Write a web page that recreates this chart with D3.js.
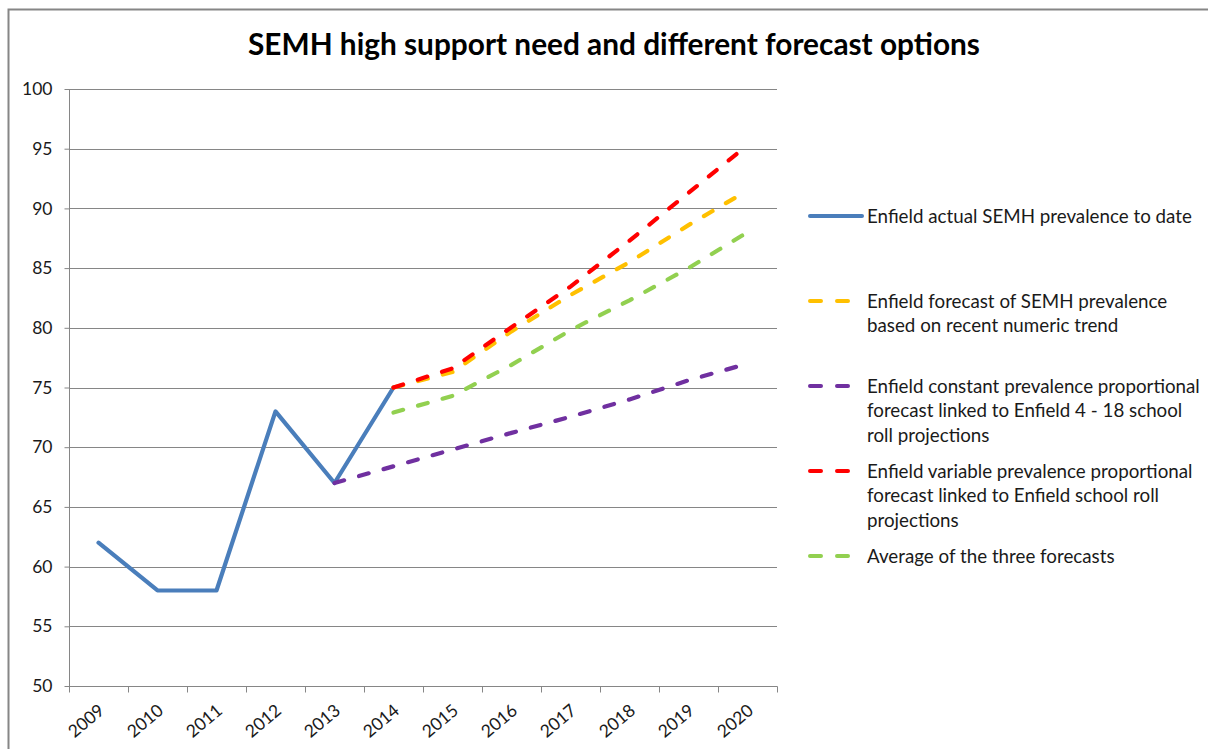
<!DOCTYPE html>
<html>
<head>
<meta charset="utf-8">
<script src="https://cdn.jsdelivr.net/npm/d3@7"></script>
<style>
  html, body { margin: 0; padding: 0; background: #fff; }
  svg { display: block; }
  text { font-family: Lato, "Open Sans", "Liberation Sans", sans-serif; }
</style>
</head>
<body>
<svg id="chart" width="1208" height="749"></svg>
<script>
// ---------- data ----------
const years = ["2009","2010","2011","2012","2013","2014","2015","2016","2017","2018","2019","2020"];
const actualYears = ["2009","2010","2011","2012","2013","2014"];
const actualValues = [62, 58, 58, 73, 67, 75];
const forecastYears = ["2014","2015","2016","2017","2018","2019","2020"];
const trendValues = [75, 76.3, 79.7, 82.75, 85.5, 88.6, 91.5];
const constantYears = ["2013","2014","2015","2016","2017","2018","2019","2020"];
const constantValues = [67, 68.4, 69.8, 71.2, 72.55, 74.0, 75.6, 77.0];
const variableValues = [75, 76.6, 80.05, 83.45, 87.3, 91.3, 95.3];
const averageValues = [72.9, 74.3, 76.9, 79.8, 82.3, 85.0, 88.0];
const yTicks = [50, 55, 60, 65, 70, 75, 80, 85, 90, 95, 100];
const titleText = "SEMH high support need and different forecast options";
const legendItems = [
  { lines: ["Enfield actual SEMH prevalence to date"], color: "#4A7EBB", dashed: false },
  { lines: ["Enfield forecast of SEMH prevalence", "based on recent numeric trend"], color: "#FFC000", dashed: true },
  { lines: ["Enfield constant prevalence proportional", "forecast linked to Enfield 4 - 18 school", "roll projections"], color: "#7030A0", dashed: true },
  { lines: ["Enfield variable prevalence proportional", "forecast linked to Enfield school roll", "projections"], color: "#FF0000", dashed: true },
  { lines: ["Average of the three forecasts"], color: "#92D050", dashed: true }
];

const series = [
  { xs: actualYears, ys: actualValues, color: "#4A7EBB", dashed: false },
  { xs: forecastYears, ys: trendValues, color: "#FFC000", dashed: true },
  { xs: constantYears, ys: constantValues, color: "#7030A0", dashed: true },
  { xs: forecastYears, ys: variableValues, color: "#FF0000", dashed: true },
  { xs: forecastYears, ys: averageValues, color: "#92D050", dashed: true }
];

// ---------- layout ----------
const svg = d3.select("#chart");
const plot = { left: 69, right: 777, top: 89, bottom: 686 };
const gridColor = "#868686";
const textColor = "#1a1a1a";

// outer border
svg.append("rect")
  .attr("x", 8.5).attr("y", 9.5).attr("width", 1220).attr("height", 760)
  .attr("fill", "none").attr("stroke", "#868686").attr("stroke-width", 2);

const x = d3.scaleBand().domain(years).range([plot.left, plot.right]).padding(0);
const cx = d => x(d) + x.bandwidth() / 2;
const y = d3.scaleLinear().domain([50, 100]).range([plot.bottom, plot.top]);

// gridlines
svg.append("g").selectAll("line").data(yTicks.filter(t => t !== 50)).join("line")
  .attr("x1", plot.left).attr("x2", plot.right)
  .attr("y1", d => Math.round(y(d)) + 0.5).attr("y2", d => Math.round(y(d)) + 0.5)
  .attr("stroke", gridColor).attr("stroke-width", 1);

// y axis
const yAxis = svg.append("g")
  .attr("transform", `translate(${plot.left + 0.5},0)`)
  .call(d3.axisLeft(y).tickValues(yTicks).tickSize(5).tickPadding(12).tickFormat(d3.format("d")));
yAxis.select(".domain").attr("stroke", gridColor).attr("d", `M0,${plot.top}V${plot.bottom + 5}`);
yAxis.selectAll(".tick line").attr("stroke", gridColor);
yAxis.selectAll(".tick text").attr("fill", textColor)
  .style("font-size", "17.5px").style("font-family", "Lato, 'Open Sans', sans-serif");

// x axis
const xAxisG = svg.append("g").attr("transform", `translate(0,${plot.bottom + 0.5})`);
xAxisG.append("line").attr("x1", plot.left).attr("x2", plot.right + 0.5)
  .attr("y1", 0).attr("y2", 0).attr("stroke", gridColor);
const boundaries = years.map(d => x(d)).concat([plot.right]);
xAxisG.selectAll("line.tk").data(boundaries).join("line").attr("class", "tk")
  .attr("x1", d => Math.round(d) + 0.5).attr("x2", d => Math.round(d) + 0.5)
  .attr("y1", 0).attr("y2", 6).attr("stroke", gridColor);
xAxisG.selectAll("text").data(years).join("text")
  .attr("text-anchor", "end")
  .attr("transform", d => `translate(${cx(d) + 7},${26}) rotate(-40)`)
  .attr("fill", textColor)
  .style("font-size", "17.5px")
  .text(d => d);

// series
const lineGen = d3.line().x(d => cx(d[0])).y(d => y(d[1]));
series.forEach(s => {
  const pts = s.xs.map((xv, i) => [xv, s.ys[i]]);
  svg.append("path")
    .attr("d", lineGen(pts))
    .attr("fill", "none")
    .attr("stroke", s.color)
    .attr("stroke-width", 4.2)
    .attr("stroke-linejoin", "round")
    .attr("stroke-linecap", "round")
    .attr("stroke-dasharray", s.dashed ? "10,15.5" : null);
});

// title
const title = svg.append("text")
  .attr("x", 614).attr("y", 55)
  .attr("text-anchor", "middle")
  .attr("font-weight", "bold")
  .attr("fill", "#000")
  .style("font-size", "26px")
  .text(titleText);
(function fit(sel, target) {
  const w = sel.node().getComputedTextLength();
  const fs = parseFloat(sel.style("font-size"));
  sel.style("font-size", (fs * target / w).toFixed(2) + "px");
})(title, 732);

// legend
const legendTops = [216, 301, 386, 471, 556];
const lineH = 24.5;
const lg = svg.append("g");
let legendFont = 17;
legendItems.forEach((it, i) => {
  const yy = legendTops[i];
  lg.append("line")
    .attr("x1", 810).attr("x2", 862).attr("y1", yy).attr("y2", yy)
    .attr("stroke", it.color).attr("stroke-width", 4)
    .attr("stroke-linecap", "round")
    .attr("stroke-dasharray", it.dashed ? "11,16" : null);
  const t = lg.append("text").attr("class", "lgt")
    .attr("x", 867).attr("y", yy).attr("fill", textColor)
    .style("font-size", legendFont + "px");
  it.lines.forEach((ln, j) => {
    t.append("tspan").attr("x", 867).attr("y", yy + j * lineH).attr("dy", "0.35em").text(ln);
  });
});
// fit legend width using longest line
(function () {
  let maxW = 0;
  lg.selectAll("tspan").each(function () { maxW = Math.max(maxW, this.getComputedTextLength()); });
  const fs = legendFont * 333 / maxW;
  lg.selectAll("text.lgt").style("font-size", fs.toFixed(2) + "px");
})();
</script>
</body>
</html>
